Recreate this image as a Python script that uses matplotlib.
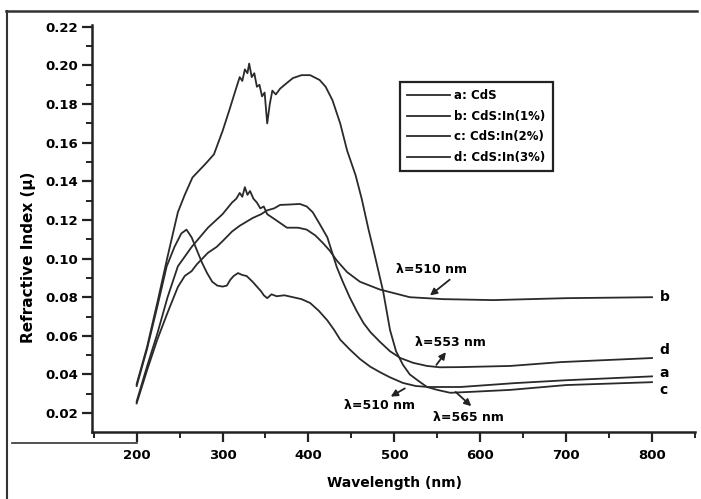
#---------Librerias---------#
import matplotlib
matplotlib.use("Agg")
import matplotlib.pyplot as plt
from matplotlib.lines import Line2D
#---------Librerias---------#

plt.rcParams['font.family'] = ['DejaVu Sans']
plt.rcParams['font.weight'] = 'bold'

#----------Datos---------#
# a: CdS
a_x = [200, 212, 224, 235, 244, 252, 258, 264, 270, 276, 282, 288, 294, 300, 305, 309,
       313, 318, 323, 328, 335, 340, 345, 348, 352, 357, 363, 372, 382, 392, 402, 412,
       422, 430, 437, 448, 460, 472, 484, 495, 510, 525, 540, 577, 640, 700, 800]
a_y = [0.034, 0.053, 0.075, 0.096, 0.106, 0.113, 0.115, 0.111, 0.1045, 0.098, 0.0925,
       0.088, 0.086, 0.0855, 0.086, 0.089, 0.091, 0.0925, 0.0915, 0.091, 0.088, 0.0855,
       0.083, 0.081, 0.0795, 0.0815, 0.0805, 0.081, 0.080, 0.079, 0.077, 0.073, 0.068,
       0.063, 0.058, 0.053, 0.048, 0.044, 0.041, 0.0385, 0.0356, 0.034, 0.0335, 0.0335,
       0.0355, 0.037, 0.039]

# b: CdS:In(1%)
b_x = [200, 212, 224, 236, 248, 264, 283, 300, 311, 316, 320, 323, 326, 329, 332, 336,
       340, 344, 348, 352, 362, 375, 388, 398, 408, 417, 425, 433, 445, 460, 483, 518,
       557, 615, 700, 800]
b_y = [0.026, 0.044, 0.061, 0.080, 0.096, 0.106, 0.116, 0.123, 0.129, 0.131, 0.134,
       0.132, 0.137, 0.133, 0.135, 0.131, 0.129, 0.126, 0.127, 0.123, 0.120, 0.116,
       0.116, 0.115, 0.112, 0.108, 0.104, 0.099, 0.093, 0.088, 0.084, 0.080, 0.079,
       0.0785, 0.0795, 0.080]

# c: CdS:In(2%)
c_x = [200, 212, 224, 236, 248, 256, 265, 280, 290, 300, 308, 315, 320, 323, 326, 329,
       331, 334, 337, 340, 343, 346, 349, 352, 355, 358, 362, 367, 375, 382, 392, 402,
       413, 420, 428, 437, 445, 455, 462, 470, 476, 487, 495, 502, 510, 518, 527, 538,
       550, 565, 590, 635, 700, 800]
c_y = [0.035, 0.054, 0.077, 0.101, 0.124, 0.133, 0.142, 0.149, 0.154, 0.166, 0.177,
       0.187, 0.194, 0.192, 0.198, 0.196, 0.201, 0.194, 0.196, 0.189, 0.190, 0.184,
       0.186, 0.170, 0.180, 0.187, 0.185, 0.188, 0.191, 0.1935, 0.195, 0.195, 0.1925,
       0.189, 0.182, 0.170, 0.156, 0.143, 0.131, 0.115, 0.104, 0.083, 0.063, 0.052,
       0.045, 0.040, 0.037, 0.0335, 0.032, 0.0305, 0.031, 0.032, 0.0345, 0.036]

# d: CdS:In(3%)
d_x = [200, 212, 224, 236, 248, 256, 264, 270, 283, 293, 300, 311, 320, 335, 345, 352,
       360, 367, 378, 390, 398, 405, 413, 422, 433, 440, 448, 456, 464, 472, 483, 495,
       507, 522, 538, 553, 577, 635, 694, 800]
d_y = [0.025, 0.042, 0.058, 0.072, 0.0853, 0.091, 0.0935, 0.097, 0.103, 0.106, 0.109,
       0.114, 0.117, 0.121, 0.123, 0.125, 0.126, 0.1278, 0.128, 0.1283, 0.127, 0.124,
       0.118, 0.111, 0.0956, 0.088, 0.080, 0.073, 0.0667, 0.062, 0.057, 0.052, 0.0485,
       0.046, 0.0444, 0.0437, 0.0438, 0.0444, 0.0464, 0.0485]

etiquetas = ["a: CdS", "b: CdS:In(1%)", "c: CdS:In(2%)", "d: CdS:In(3%)"]
letras = ["a", "b", "c", "d"]
letras_y = [0.0407, 0.0800, 0.0319, 0.0526]

lambdas = ["λ=510 nm", "λ=553 nm", "λ=510 nm", "λ=565 nm"]
#----------Datos---------#

fig = plt.figure(figsize=(7.01, 4.99), dpi=100)
ax = fig.add_axes([0.1312, 0.1343, 0.8602, 0.8157])

series = [(a_x, a_y), (b_x, b_y), (c_x, c_y), (d_x, d_y)]
for (sx, sy), lab in zip(series, etiquetas):
    ax.plot(sx, sy, color="#2a2a2a", lw=1.3, label=lab)

ax.set_xlim(148, 850)
ax.set_ylim(0.0102, 0.221)
ax.set_xticks([200, 300, 400, 500, 600, 700, 800])
ax.set_xticks([150, 250, 350, 450, 550, 650, 750, 850], minor=True)
ax.set_yticks([0.02, 0.04, 0.06, 0.08, 0.10, 0.12, 0.14, 0.16, 0.18, 0.20, 0.22])
ax.set_yticks([0.03, 0.05, 0.07, 0.09, 0.11, 0.13, 0.15, 0.17, 0.19, 0.21], minor=True)
ax.set_yticklabels(["%.2f" % v for v in ax.get_yticks()])

for lado in ["top", "right"]:
    ax.spines[lado].set_visible(False)
for lado in ["left", "bottom"]:
    ax.spines[lado].set_linewidth(1.8)
    ax.spines[lado].set_color("#222222")

ax.tick_params(which="major", direction="out", length=7, width=1.6, labelsize=9.5,
               color="#222222", pad=3)
ax.tick_params(axis="x", which="major", pad=5)
ax.tick_params(which="minor", direction="out", length=4, width=1.4, color="#222222")

ax.set_xlabel("Wavelength (nm)", fontsize=10, fontweight="bold")
ax.set_ylabel("Refractive Index (μ)", fontsize=11, fontweight="bold")
ax.xaxis.set_label_coords(0.502, -0.108)
ax.yaxis.set_label_coords(-0.092, 0.429)

# letras al final de cada curva
for letra, ly in zip(letras, letras_y):
    ax.text(809, ly, letra, fontsize=10, fontweight="bold", ha="left", va="center")

# flechas lambda
flecha = dict(arrowstyle="-|>", color="#222222", lw=1.3, mutation_scale=10)
ax.annotate("", xy=(539, 0.080), xytext=(567, 0.090), arrowprops=flecha)
ax.text(543, 0.0941, lambdas[0], fontsize=9, fontweight="bold", ha="center", va="center")
ax.annotate("", xy=(562, 0.0527), xytext=(547, 0.0438), arrowprops=flecha)
ax.text(565, 0.0568, lambdas[1], fontsize=9, fontweight="bold", ha="center", va="center")
ax.annotate("", xy=(493, 0.0278), xytext=(515, 0.0335), arrowprops=flecha)
ax.text(483, 0.0241, lambdas[2], fontsize=9, fontweight="bold", ha="center", va="center")
ax.annotate("", xy=(592, 0.0226), xytext=(569, 0.0319), arrowprops=flecha)
ax.text(586, 0.0175, lambdas[3], fontsize=9, fontweight="bold", ha="center", va="center")

leyenda = ax.legend(loc="upper left", bbox_to_anchor=(0.511, 0.860), fontsize=8.5,
                    handlelength=3.6, handletextpad=0.4, labelspacing=0.65,
                    borderpad=0.6, borderaxespad=0.0,
                    fancybox=False, framealpha=1, edgecolor="#222222")
leyenda.get_frame().set_linewidth(1.6)
for t in leyenda.get_texts():
    t.set_fontweight("bold")

# marco del escaneo
fig.add_artist(Line2D([0.008, 0.995], [0.978, 0.978], transform=fig.transFigure,
                      color="#333333", lw=1.8))
fig.add_artist(Line2D([0.010, 0.010], [0.0, 0.978], transform=fig.transFigure,
                      color="#333333", lw=1.5))
fig.add_artist(Line2D([0.017, 0.195], [0.112, 0.112], transform=fig.transFigure,
                      color="#333333", lw=1.2))

plt.savefig("out.png", dpi=100)
plt.close()
